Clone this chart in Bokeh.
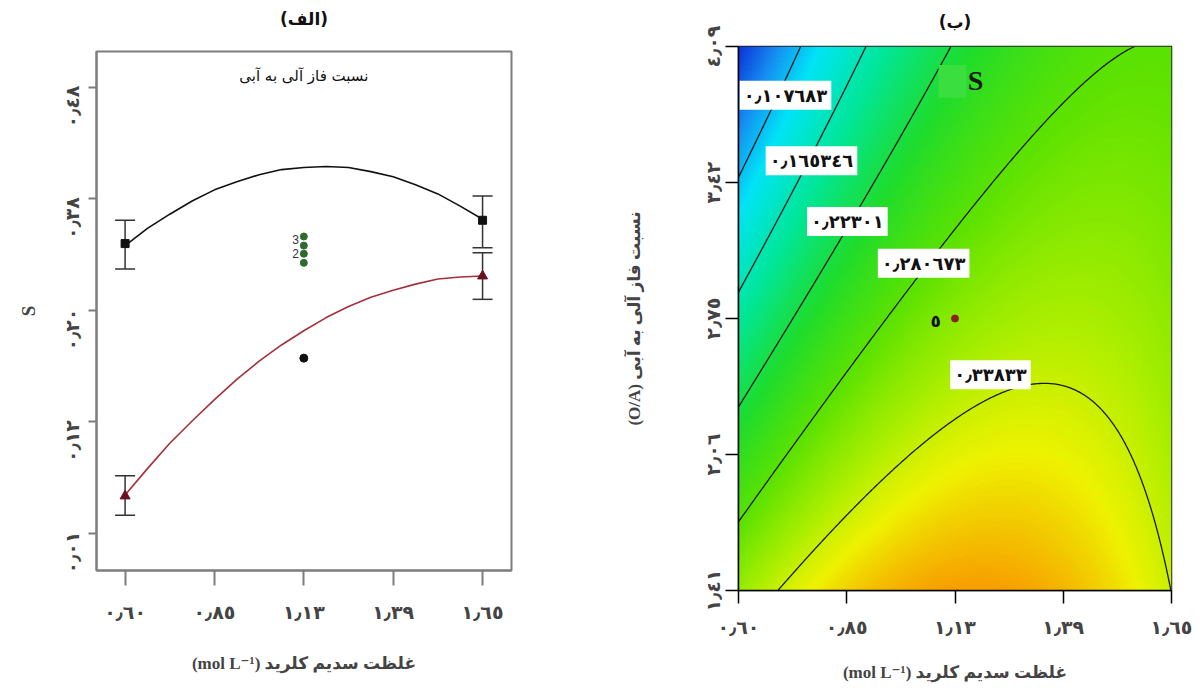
import numpy as np
from bokeh.plotting import figure
from bokeh.models import (Range1d, FixedTicker, Whisker, TeeHead, ColumnDataSource,
                          LinearColorMapper, Label, Title)
from bokeh.layouts import row, column
from bokeh.embed import file_html
from bokeh.resources import INLINE
from bokeh.core.properties import value

# ---------------- data: panel (الف) interaction plot ----------------
nacl_ticks = [0.6, 0.8625, 1.125, 1.3875, 1.65]
nacl_tick_labels = ["٠٫٦٠", "٠٫٨٥", "١٫١٣", "١٫٣٩", "١٫٦٥"]
s_ticks = [0.01, 0.12, 0.23, 0.34, 0.45]
s_tick_labels = ["٠٫٠١", "٠٫١٢", "٠٫٢٠", "٠٫٣٨", "٠٫٤٨"]

curve_x = [0.6, 0.665625, 0.73125, 0.796875, 0.8625, 0.928125, 0.99375, 1.059375,
           1.125, 1.190625, 1.25625, 1.321875, 1.3875, 1.453125, 1.51875, 1.584375, 1.65]
low_oa_curve = [0.294, 0.311, 0.325, 0.338, 0.349, 0.357, 0.364, 0.369,
                0.371, 0.372, 0.371, 0.367, 0.362, 0.354, 0.345, 0.333, 0.320]
high_oa_curve = [0.048, 0.074, 0.099, 0.121, 0.142, 0.162, 0.180, 0.196,
                 0.210, 0.223, 0.234, 0.243, 0.250, 0.256, 0.261, 0.263, 0.264]

end_x = [0.6, 1.65]
low_oa_mean = [0.296, 0.319]
low_oa_upper = [0.319, 0.343]
low_oa_lower = [0.271, 0.292]
high_oa_mean = [0.047, 0.264]
high_oa_upper = [0.067, 0.287]
high_oa_lower = [0.028, 0.241]

center_x = [1.125, 1.125, 1.125, 1.125]
center_s = [0.303, 0.294, 0.286, 0.277]
center_count_labels = ["3", "2"]
center_count_s = [0.300, 0.286]
outlier_x = [1.125]
outlier_s = [0.183]

# ---------------- data: panel (ب) contour plot ----------------
oa_ticks = [1.41, 2.08, 2.75, 3.42, 4.09]
oa_tick_labels = ["١٫٤١", "٢٫٠٦", "٢٫٧٥", "٣٫٤٢", "٤٫٠٩"]
# quadratic response-surface coefficients (coded units)
surface_coef = [0.3078, 0.0655, -0.0825, -0.0637, 0.0, 0.0541]  # b0, bN, bO, bNN, bOO, bNO
contour_levels = [0.107683, 0.165346, 0.22301, 0.280673, 0.33833]
contour_label_text = ["٠٫١٠٧٦٨٣", "٠٫١٦٥٣٤٦", "٠٫٢٢٣٠١", "٠٫٢٨٠٦٧٣", "٠٫٣٣٨٣٣"]
contour_label_x = [0.714, 0.777, 0.864, 1.049, 1.211]
contour_label_y = [3.85, 3.527, 3.228, 3.022, 2.473]
center_point_x = [1.125]
center_point_y = [2.75]
center_point_label = ["٥"]

AR = "DejaVu Sans"
MIX = "Liberation Serif, DejaVu Sans"
GRAY = "#7d7d7d"


def add_title(p, text, spacer_px):
    # spacer panel next to the frame, then the real title above it
    p.add_layout(Title(text=" ", text_font_size=spacer_px, standoff=0, text_color="white"), "above")
    p.add_layout(Title(text=text, align="center", vertical_align="top", standoff=0,
                       text_font=AR, text_font_size="17px", text_font_style="bold",
                       text_color="#111111"), "above")


# ======================= panel (الف) =======================
p1 = figure(width=600, height=684, output_backend="svg", toolbar_location=None,
            x_range=Range1d(0.516, 1.735), y_range=Range1d(-0.0265, 0.4855),
            min_border_left=96, min_border_right=89, min_border_top=51, min_border_bottom=114)
p1.grid.visible = False
p1.outline_line_color = GRAY
p1.outline_line_width = 2
add_title(p1, "(الف)", "17px")

xa = p1.xaxis[0]
xa.ticker = FixedTicker(ticks=nacl_ticks)
xa.major_label_overrides = {t: l for t, l in zip(nacl_ticks, nacl_tick_labels)}
xa.minor_tick_line_color = None
xa.major_tick_in = 0
xa.major_tick_out = 15
xa.major_tick_line_color = GRAY
xa.major_tick_line_width = 2
xa.axis_line_color = GRAY
xa.axis_line_width = 2
xa.major_label_text_font = AR
xa.major_label_text_font_style = "bold"
xa.major_label_text_font_size = "19px"
xa.major_label_standoff = 15
xa.axis_label = "(mol L⁻¹) غلظت سدیم کلرید"
xa.axis_label_text_font = MIX
xa.axis_label_text_font_style = "bold"
xa.axis_label_text_font_size = "17px"
xa.axis_label_standoff = 28

ya = p1.yaxis[0]
ya.ticker = FixedTicker(ticks=s_ticks)
ya.major_label_overrides = {t: l + "\u2003\u2003" for t, l in zip(s_ticks, s_tick_labels)}
ya.major_label_orientation = "vertical"
ya.minor_tick_line_color = None
ya.major_tick_in = 0
ya.major_tick_out = 8
ya.major_tick_line_color = GRAY
ya.major_tick_line_width = 2
ya.axis_line_color = GRAY
ya.axis_line_width = 2
ya.major_label_text_font = AR
ya.major_label_text_font_style = "bold"
ya.major_label_text_font_size = "19px"
ya.major_label_standoff = 5
ya.axis_label = "S"
ya.axis_label_text_font = "Liberation Serif"
ya.axis_label_text_font_style = "bold"
ya.axis_label_text_font_size = "19px"
ya.axis_label_standoff = 20

src_low = ColumnDataSource(dict(x=end_x, m=low_oa_mean, up=low_oa_upper, lo=low_oa_lower))
src_high = ColumnDataSource(dict(x=end_x, m=high_oa_mean, up=high_oa_upper, lo=high_oa_lower))
for src in (src_low, src_high):
    w = Whisker(base="x", upper="up", lower="lo", source=src, dimension="height",
                line_color="#333333", line_width=1.5,
                upper_head=TeeHead(size=20, line_color="#333333", line_width=1.5),
                lower_head=TeeHead(size=20, line_color="#333333", line_width=1.5))
    p1.add_layout(w)

p1.line(curve_x, low_oa_curve, line_color="#111111", line_width=1.6)
p1.line(curve_x, high_oa_curve, line_color="#a3303c", line_width=1.6)
p1.scatter(end_x, low_oa_mean, marker="square", size=8, color="#111111")
p1.scatter(end_x, high_oa_mean, marker="triangle", size=10, color="#6a1020")
p1.scatter(center_x, center_s, marker="circle", size=7, color="#2f6a2f")
p1.scatter(outlier_x, outlier_s, marker="circle", size=8, color="#111111")
p1.text(x=[1.101, 1.101], y=center_count_s, text=center_count_labels,
        text_font=value("Liberation Sans"), text_font_size="12px", text_color="#333333",
        text_align="center", text_baseline="middle")
p1.add_layout(Label(x=1.125, y=0.461, text="نسبت فاز آلی به آبی", text_font=AR,
                    text_font_size="15px", text_align="center", text_baseline="middle",
                    text_color="#111111"))

# ======================= panel (ب) =======================
p2 = figure(width=600, height=684, output_backend="svg", toolbar_location=None,
            x_range=Range1d(0.6, 1.65), y_range=Range1d(1.41, 4.09),
            min_border_left=138, min_border_right=29, min_border_top=46, min_border_bottom=91)
p2.grid.visible = False
p2.outline_line_color = "#222222"
p2.outline_line_width = 1.5
add_title(p2, "(ب)", "10px")

for p in (p1, p2):
    try:
        p.frame_align = False
    except Exception:
        pass

b0, bN, bO, bNN, bOO, bNO = surface_coef
gx = np.linspace(0.6, 1.65, 300)
gy = np.linspace(1.41, 4.09, 300)
GX, GY = np.meshgrid(gx, gy)
U = (GX - 1.125) / 0.525
V = (GY - 2.75) / 1.34
Z = b0 + bN * U + bO * V + bNN * U ** 2 + bOO * V ** 2 + bNO * U * V

stops = [0.04, 0.085, 0.125, 0.18, 0.235, 0.285, 0.325, 0.355, 0.39]
stop_cols = ["#0b30d8", "#1590f2", "#00e4f6", "#00e69a", "#1fdc2c",
             "#5ee200", "#aaee00", "#eef200", "#f7a000"]


def hex2rgb(h):
    return [int(h[i:i + 2], 16) for i in (1, 3, 5)]


rgb = np.array([hex2rgb(c) for c in stop_cols], dtype=float)
vals = np.linspace(stops[0], stops[-1], 256)
palette = []
for v in vals:
    r = np.interp(v, stops, rgb[:, 0])
    g = np.interp(v, stops, rgb[:, 1])
    b = np.interp(v, stops, rgb[:, 2])
    palette.append("#%02x%02x%02x" % (int(round(r)), int(round(g)), int(round(b))))
cmap = LinearColorMapper(palette=palette, low=stops[0], high=stops[-1])

p2.image(image=[Z], x=0.6, y=1.41, dw=1.05, dh=2.68, color_mapper=cmap)
p2.contour(GX, GY, Z, levels=contour_levels, line_color="#1a1a1a", line_width=1.3)

for t, x, y in zip(contour_label_text, contour_label_x, contour_label_y):
    p2.add_layout(Label(x=x, y=y, text=t, text_font=AR, text_font_style="bold",
                        text_font_size="18px", text_align="center", text_baseline="middle",
                        background_fill_color="white", padding=4, text_color="#111111"))

p2.rect(x=[1.119], y=[3.918], width=0.068, height=0.162, fill_color="#3ade3e", line_color=None)
p2.add_layout(Label(x=1.175, y=3.923, text="S", text_font="Liberation Serif",
                    text_font_style="bold", text_font_size="28px", text_align="center",
                    text_baseline="middle", text_color="#1a1a1a"))
p2.scatter(center_point_x, center_point_y, marker="circle", size=7, color="#8b2020")
p2.text(x=[1.078], y=[2.738], text=center_point_label, text_font=value(AR),
        text_font_style="bold", text_font_size="17px", text_align="center",
        text_baseline="middle", text_color="#111111")

xb = p2.xaxis[0]
xb.ticker = FixedTicker(ticks=nacl_ticks)
xb.major_label_overrides = {t: l for t, l in zip(nacl_ticks, nacl_tick_labels)}
xb.minor_tick_line_color = None
xb.major_tick_in = 0
xb.major_tick_out = 13
xb.major_tick_line_width = 1.5
xb.axis_line_width = 1.5
xb.major_label_text_font = AR
xb.major_label_text_font_style = "bold"
xb.major_label_text_font_size = "19px"
xb.major_label_standoff = 12
xb.axis_label = "(mol L⁻¹) غلظت سدیم کلرید"
xb.axis_label_text_font = MIX
xb.axis_label_text_font_style = "bold"
xb.axis_label_text_font_size = "17px"
xb.axis_label_standoff = 22

yb = p2.yaxis[0]
yb.ticker = FixedTicker(ticks=oa_ticks)
yb.major_label_overrides = {t: l for t, l in zip(oa_ticks, oa_tick_labels)}
yb.major_label_orientation = "vertical"
yb.minor_tick_line_color = None
yb.major_tick_in = 0
yb.major_tick_out = 13
yb.major_tick_line_width = 1.5
yb.axis_line_width = 1.5
yb.major_label_text_font = AR
yb.major_label_text_font_style = "bold"
yb.major_label_text_font_size = "19px"
yb.major_label_standoff = 2
yb.axis_label = "(O/A) نسبت فاز آلی به آبی"
yb.axis_label_text_font = MIX
yb.axis_label_text_font_style = "bold"
yb.axis_label_text_font_size = "17px"
yb.axis_label_standoff = 55

layout = row(column(p1), column(p2))
open("out.html", "w").write(file_html(layout, INLINE))
